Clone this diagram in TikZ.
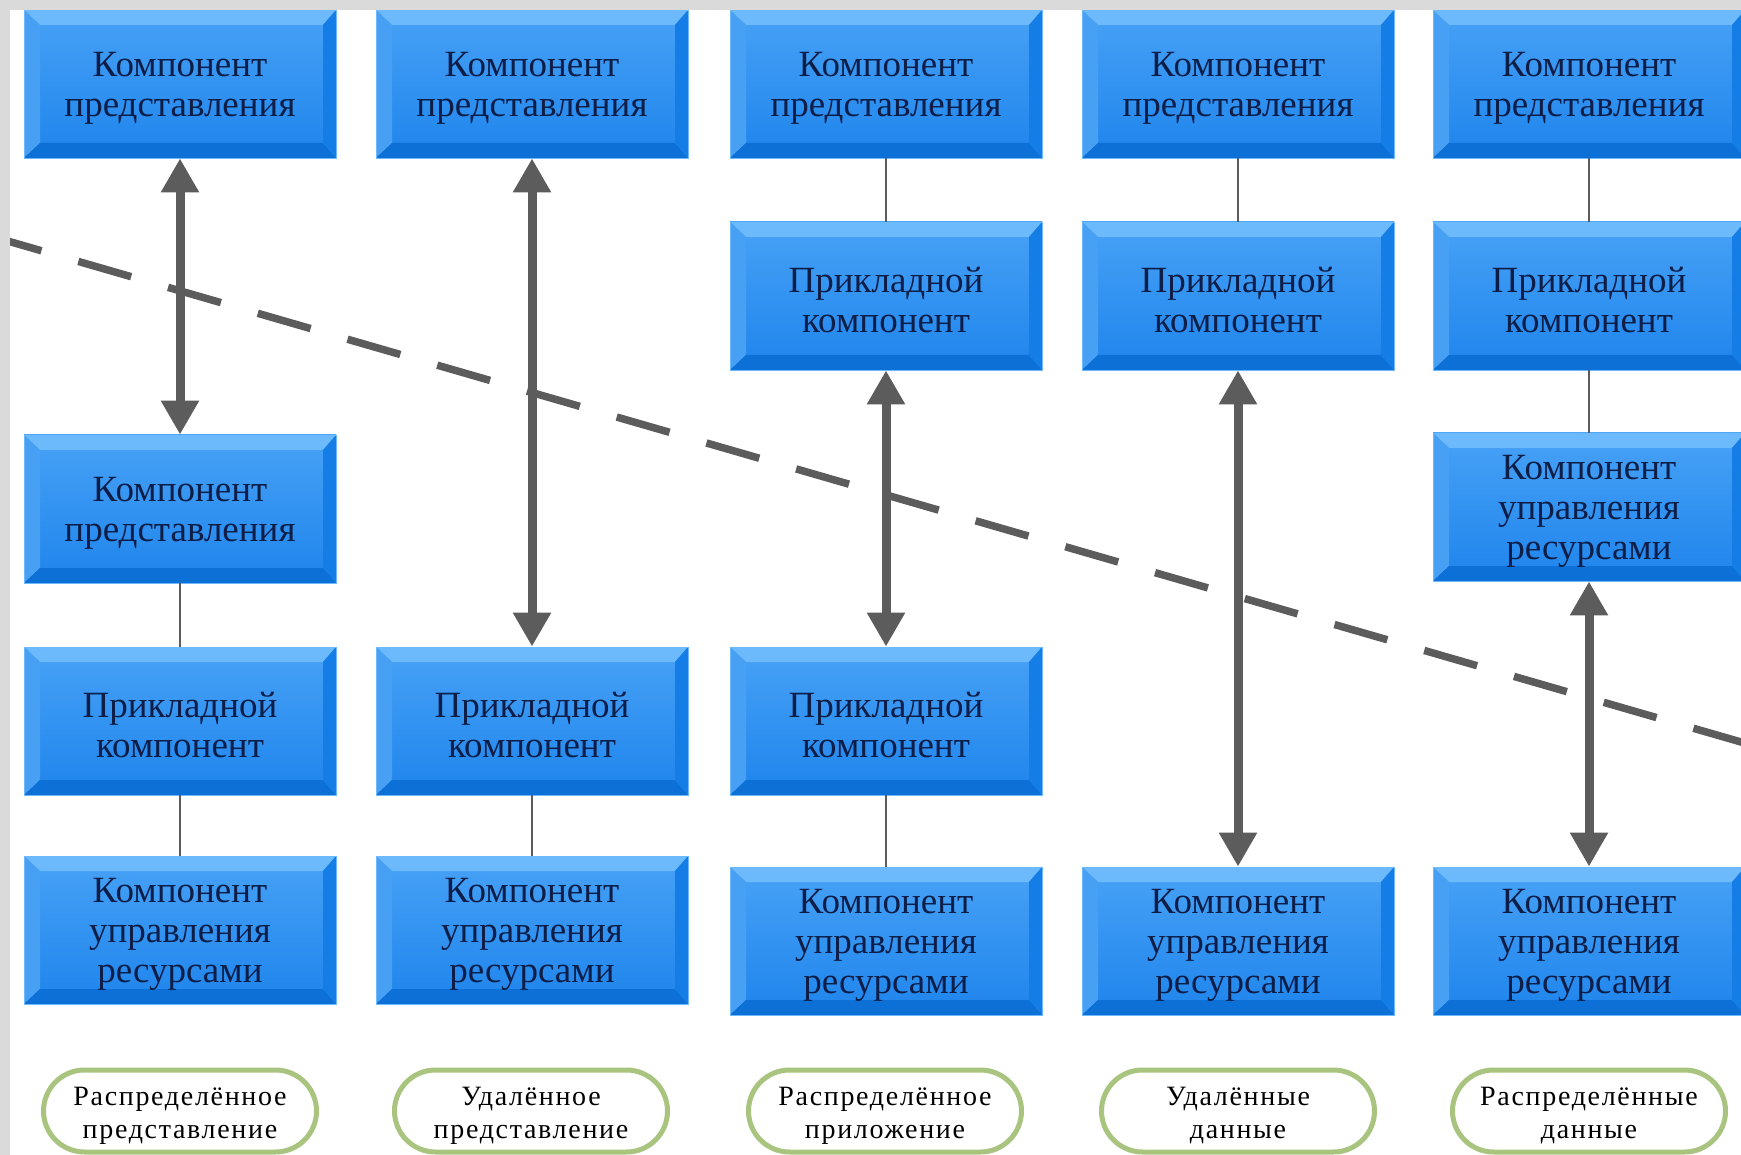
\documentclass[tikz,border=0pt]{standalone}
\usepackage{fontspec}
\setmainfont{Liberation Serif}
\newfontfamily\boxfont{Liberation Serif}
\newfontfamily\ovalfont[LetterSpace=6]{Liberation Serif}
\usetikzlibrary{arrows.meta,calc}
\definecolor{bfacet}{RGB}{72,162,246}
\definecolor{bfaceb}{RGB}{30,132,236}
\definecolor{btop}{RGB}{108,186,252}
\definecolor{bleft}{RGB}{72,160,244}
\definecolor{bbot}{RGB}{12,112,215}
\definecolor{bright}{RGB}{20,126,230}
\definecolor{btext}{RGB}{12,30,72}
\definecolor{agray}{RGB}{92,92,92}
\definecolor{ogreen}{RGB}{168,196,126}
\definecolor{framegray}{RGB}{218,218,218}
\begin{document}
\begin{tikzpicture}[x=1pt,y=-1pt,
  comp/.style={minimum width=312pt, minimum height=148pt, inner sep=0pt,
    top color=bfacet, bottom color=bfaceb, draw=btop, line width=0.8pt,
    path picture={
      \fill[btop] (path picture bounding box.north west) -- (path picture bounding box.north east)
        -- ([shift={(-13pt,-15pt)}]path picture bounding box.north east)
        -- ([shift={(16pt,-15pt)}]path picture bounding box.north west) -- cycle;
      \fill[bleft] (path picture bounding box.north west) -- ([shift={(16pt,-15pt)}]path picture bounding box.north west)
        -- ([shift={(16pt,15pt)}]path picture bounding box.south west)
        -- (path picture bounding box.south west) -- cycle;
      \fill[bbot] (path picture bounding box.south west) -- ([shift={(16pt,15pt)}]path picture bounding box.south west)
        -- ([shift={(-13pt,15pt)}]path picture bounding box.south east)
        -- (path picture bounding box.south east) -- cycle;
      \fill[bright] (path picture bounding box.north east) -- ([shift={(-13pt,-15pt)}]path picture bounding box.north east)
        -- ([shift={(-13pt,15pt)}]path picture bounding box.south east)
        -- (path picture bounding box.south east) -- cycle;
    }},
  ctxt/.style={yshift=-4.4pt, inner sep=0pt, text=btext, align=center,
    font=\boxfont\fontsize{37}{40}\selectfont},
  oval/.style={draw=ogreen, line width=5pt, fill=white, minimum width=273pt,
    minimum height=82pt, rounded corners=41pt, inner sep=0pt},
  otxt/.style={yshift=-4.4pt, inner sep=0pt, text=black, align=center,
    font=\ovalfont\fontsize{28}{33}\selectfont},
  dbl/.style={draw=agray, line width=9pt,
    {Triangle[width=36pt,length=34pt]}-{Triangle[width=36pt,length=34pt]}},
  conn/.style={draw=agray, line width=1.6pt},
  cut/.style={draw=agray, line width=7.5pt, dash pattern=on 55pt off 38.4pt}
]
\useasboundingbox (0,0) rectangle (1741,1155);
\clip (0,0) rectangle (1741,1155);
\fill[white] (0,0) rectangle (1741,1155);

% column 1
\node[comp, label={[ctxt]center:Компонент\\представления}] (c1a) at (180,84) {};
\node[comp, label={[ctxt]center:Компонент\\представления}] (c1b) at (180,509) {};
\node[comp, label={[ctxt]center:Прикладной\\компонент}] (c1c) at (180,721) {};
\node[comp, label={[ctxt]center:Компонент\\управления\\ресурсами}] (c1d) at (180,930) {};
% column 2
\node[comp, label={[ctxt]center:Компонент\\представления}] (c2a) at (532,84) {};
\node[comp, label={[ctxt]center:Прикладной\\компонент}] (c2c) at (532,721) {};
\node[comp, label={[ctxt]center:Компонент\\управления\\ресурсами}] (c2d) at (532,930) {};
% column 3
\node[comp, label={[ctxt]center:Компонент\\представления}] (c3a) at (886,84) {};
\node[comp, label={[ctxt]center:Прикладной\\компонент}] (c3b) at (886,296) {};
\node[comp, label={[ctxt]center:Прикладной\\компонент}] (c3c) at (886,721) {};
\node[comp, label={[ctxt]center:Компонент\\управления\\ресурсами}] (c3d) at (886,941) {};
% column 4
\node[comp, label={[ctxt]center:Компонент\\представления}] (c4a) at (1238,84) {};
\node[comp, label={[ctxt]center:Прикладной\\компонент}] (c4b) at (1238,296) {};
\node[comp, label={[ctxt]center:Компонент\\управления\\ресурсами}] (c4d) at (1238,941) {};
% column 5
\node[comp, label={[ctxt]center:Компонент\\представления}] (c5a) at (1589,84) {};
\node[comp, label={[ctxt]center:Прикладной\\компонент}] (c5b) at (1589,296) {};
\node[comp, label={[ctxt]center:Компонент\\управления\\ресурсами}] (c5c) at (1589,507) {};
\node[comp, label={[ctxt]center:Компонент\\управления\\ресурсами}] (c5d) at (1589,941) {};

% thin connectors
\draw[conn] (c1b) -- (c1c);
\draw[conn] (c1c) -- (c1d);
\draw[conn] (c2c) -- (c2d);
\draw[conn] (c3a) -- (c3b);
\draw[conn] (c3c) -- (c3d);
\draw[conn] (c4a) -- (c4b);
\draw[conn] (c5a) -- (c5b);
\draw[conn] (c5b) -- (c5c);

% double arrows
\draw[dbl] (c1a) -- (c1b);
\draw[dbl] (c2a) -- (c2c);
\draw[dbl] (c3b) -- (c3c);
\draw[dbl] (c4b) -- (c4d);
\draw[dbl] (c5c) -- (c5d);

% dashed boundary
\coordinate (ls) at (-11.4,235.5);
\coordinate (le) at (1760,747.5);
\draw[cut] (ls) -- (le);

% labels
\node[oval, label={[otxt]center:Распределённое\\представление}] (o1) at (180,1111) {};
\node[oval, label={[otxt]center:Удалённое\\представление}] (o2) at (531,1111) {};
\node[oval, label={[otxt]center:Распределённое\\приложение}] (o3) at (885,1111) {};
\node[oval, label={[otxt]center:Удалённые\\данные}] (o4) at (1238,1111) {};
\node[oval, label={[otxt]center:Распределённые\\данные}] (o5) at (1589,1111) {};

% frame strips
\fill[framegray] (0,0) rectangle (1741,10);
\fill[framegray] (0,0) rectangle (10,1155);
\end{tikzpicture}
\end{document}
